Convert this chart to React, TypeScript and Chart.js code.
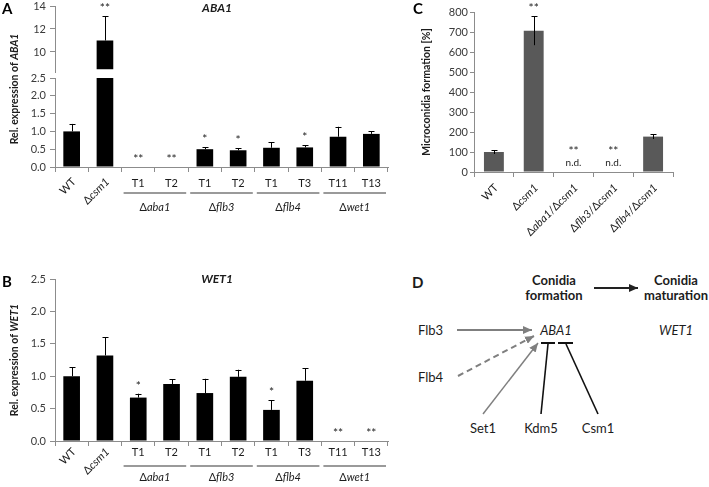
import React, { useEffect, useRef } from 'react';
import { Chart, registerables } from 'chart.js';

Chart.register(...registerables);

const FONT = 'Lato, "Open Sans", "DejaVu Sans", sans-serif';
const INK = '#1c1c1c';
const TICK_INK = '#3a3a3a';
const AXIS = '#8c8c8c';

// ---- Panels A and B: strains ----
const strainLabels = ['WT', 'Δcsm1', 'T1', 'T2', 'T1', 'T2', 'T1', 'T3', 'T11', 'T13'];
const strainGroups = ['Δaba1', 'Δflb3', 'Δflb4', 'Δwet1'];

// Panel A: ABA1 (broken axis)
const aba1Values = [1.0, 11.0, 0, 0, 0.5, 0.47, 0.54, 0.55, 0.85, 0.93];
const aba1Errors = [0.21, 2.1, 0, 0, 0.05, 0.05, 0.15, 0.06, 0.28, 0.07];
const aba1Stars = ['', '**', '**', '**', '*', '*', '', '*', '', ''];
const aba1LowTicks = [0, 0.5, 1.0, 1.5, 2.0, 2.5];
const aba1HighTicks = [10, 12, 14];

// Panel B: WET1
const wet1Values = [1.0, 1.32, 0.67, 0.88, 0.74, 0.99, 0.48, 0.93, 0, 0];
const wet1Errors = [0.14, 0.28, 0.06, 0.07, 0.22, 0.11, 0.15, 0.19, 0, 0];
const wet1Stars = ['', '', '*', '', '', '', '*', '', '**', '**'];
const wet1Ticks = [0, 0.5, 1.0, 1.5, 2.0, 2.5];

// Panel C: microconidia formation
const mutantLabels = ['WT', 'Δcsm1', 'Δaba1/Δcsm1', 'Δflb3/Δcsm1', 'Δflb4/Δcsm1'];
const microValues = [100, 706, 0, 0, 177];
const microErrors = [10, 72, 0, 0, 12];
const microStars = ['', '**', '**', '**', ''];
const microNotes = ['', '', 'n.d.', 'n.d.', ''];
const microTicks = [0, 100, 200, 300, 400, 500, 600, 700, 800];

type Seg = { t: string; i?: boolean; b?: boolean };

function richSegs(label: string, bold = false): Seg[] {
  const parts = label.split(/(Δ|\/)/).filter((p) => p !== '');
  let prevDelta = false;
  return parts.map((p) => {
    const s = { t: p, i: prevDelta, b: bold };
    prevDelta = p === 'Δ';
    return s;
  });
}

function fontOf(s: Seg, size: number) {
  return `${s.i ? 'italic ' : ''}${s.b ? 'bold ' : ''}${size}px ${FONT}`;
}

function drawRich(
  ctx: CanvasRenderingContext2D,
  segs: Seg[],
  x: number,
  y: number,
  size: number,
  align: 'left' | 'center' | 'right',
  rot: number,
  color: string
) {
  ctx.save();
  ctx.translate(x, y);
  ctx.rotate(rot);
  ctx.textBaseline = 'middle';
  ctx.textAlign = 'left';
  ctx.fillStyle = color;
  const widths = segs.map((s) => {
    ctx.font = fontOf(s, size);
    return ctx.measureText(s.t).width;
  });
  const total = widths.reduce((a, b) => a + b, 0);
  let start = align === 'left' ? 0 : align === 'center' ? -total / 2 : -total;
  segs.forEach((s, k) => {
    ctx.font = fontOf(s, size);
    ctx.fillText(s.t, start, 0);
    start += widths[k];
  });
  ctx.restore();
}

function errorBar(ctx: CanvasRenderingContext2D, cx: number, y0: number, y1: number) {
  ctx.save();
  ctx.strokeStyle = '#000';
  ctx.lineWidth = 1;
  ctx.beginPath();
  const px = Math.round(cx) + 0.5;
  ctx.moveTo(px, y0);
  ctx.lineTo(px, y1);
  ctx.moveTo(px - 3, Math.round(y1) + 0.5);
  ctx.lineTo(px + 3, Math.round(y1) + 0.5);
  ctx.stroke();
  ctx.restore();
}

type StripOpts = {
  vals: number[];
  errs: number[];
  stars: string[];
  toPx: (chart: any, v: number) => number;
  labelDy: number;
  rotDy: number;
  lineDy: number;
  nameDy: number;
  yTitle: Seg[];
  yTitleY: number;
  title: Seg[];
  titleX: number;
  titleY: number;
  letter: string;
  letterY: number;
};

function stripDeco(o: StripOpts) {
  return {
    id: 'stripDeco',
    afterDatasetsDraw(chart: any) {
      const ctx = chart.ctx as CanvasRenderingContext2D;
      const x = chart.scales.x;
      o.vals.forEach((v, i) => {
        const cx = x.getPixelForValue(i);
        const e = o.errs[i];
        let topPx = o.toPx(chart, v);
        if (e > 0) {
          const y1 = o.toPx(chart, v + e);
          errorBar(ctx, cx, topPx, y1);
          topPx = y1;
        }
        if (o.stars[i]) drawRich(ctx, [{ t: o.stars[i] }], cx, topPx - 8, 12, 'center', 0, INK);
      });
    },
    afterDraw(chart: any) {
      const ctx = chart.ctx as CanvasRenderingContext2D;
      const x = chart.scales.x;
      const axisY = chart.chartArea.bottom;
      const step = x.getPixelForValue(1) - x.getPixelForValue(0);
      strainLabels.forEach((lab, i) => {
        const cx = x.getPixelForValue(i);
        if (i < 2) drawRich(ctx, richSegs(lab), cx + 2.5, axisY + o.rotDy, 11, 'right', -Math.PI / 4, INK);
        else drawRich(ctx, richSegs(lab), cx, axisY + o.labelDy, 11, 'center', 0, INK);
      });
      strainGroups.forEach((g, gi) => {
        const i0 = 2 + gi * 2;
        const l = x.getPixelForValue(i0) - step / 2;
        const r = x.getPixelForValue(i0 + 1) + step / 2;
        ctx.save();
        ctx.strokeStyle = '#9a9a9a';
        ctx.lineWidth = 2;
        ctx.beginPath();
        ctx.moveTo(l + 2, axisY + o.lineDy);
        ctx.lineTo(r - 2, axisY + o.lineDy);
        ctx.stroke();
        ctx.restore();
        drawRich(ctx, richSegs(g), (l + r) / 2, axisY + o.nameDy, 11, 'center', 0, INK);
      });
      drawRich(ctx, o.yTitle, 15, o.yTitleY, 10.5, 'center', -Math.PI / 2, INK);
      drawRich(ctx, o.title, o.titleX, o.titleY, 12, 'center', 0, INK);
      drawRich(ctx, [{ t: o.letter, b: true }], 2, o.letterY, 15, 'left', 0, '#000');
    },
  };
}

const yTickFont = { family: FONT, size: 11 };
const yGrid = { drawOnChartArea: false, drawTicks: true, tickLength: 5, color: AXIS };
const xGrid = { offset: true, drawOnChartArea: false, drawTicks: true, tickLength: 5, color: AXIS };

function fixedTicks(values: number[]) {
  return (s: any) => {
    s.ticks = values.map((v) => ({ value: v }));
  };
}

function fixWidth(w: number) {
  return (s: any) => {
    s.width = w;
    s.paddingTop = 0;
    s.paddingBottom = 0;
  };
}

function configA(): any {
  const lowMax = 2.5;
  return {
    type: 'bar',
    data: {
      labels: strainLabels,
      datasets: [
        {
          data: aba1Values.map((v) => Math.min(v, lowMax)),
          yAxisID: 'yLow',
          backgroundColor: '#000',
          barPercentage: 0.5,
          categoryPercentage: 1,
          grouped: false,
        },
        {
          data: aba1Values.map((v) => (v > lowMax ? v : null)),
          yAxisID: 'yHigh',
          base: 8.5,
          backgroundColor: '#000',
          barPercentage: 0.5,
          categoryPercentage: 1,
          grouped: false,
        },
      ],
    },
    options: {
      responsive: false,
      animation: false,
      layout: { padding: { top: 6, right: 12, left: 0, bottom: 0 } },
      plugins: { legend: { display: false }, tooltip: { enabled: false } },
      scales: {
        x: {
          grid: xGrid,
          border: { color: AXIS },
          ticks: { display: false },
          afterFit: (s: any) => {
            s.height = 73;
          },
        },
        yLow: {
          type: 'linear',
          position: 'left',
          stack: 'aba',
          stackWeight: 89,
          weight: 1,
          min: 0,
          max: 2.5,
          afterBuildTicks: fixedTicks(aba1LowTicks),
          ticks: {
            color: TICK_INK,
            font: yTickFont,
            padding: 4,
            autoSkip: false,
            callback: (v: any) => Number(v).toFixed(1),
          },
          grid: yGrid,
          border: { color: AXIS },
          afterFit: fixWidth(55),
        },
        yGap: {
          type: 'linear',
          position: 'left',
          stack: 'aba',
          stackWeight: 6,
          weight: 2,
          display: false,
        },
        yHigh: {
          type: 'linear',
          position: 'left',
          stack: 'aba',
          stackWeight: 66,
          weight: 3,
          min: 8.26,
          max: 14,
          afterBuildTicks: fixedTicks(aba1HighTicks),
          ticks: { color: TICK_INK, font: yTickFont, padding: 4, autoSkip: false, callback: (v: any) => String(v) },
          grid: yGrid,
          border: { color: AXIS },
          afterFit: fixWidth(55),
        },
      },
    },
    plugins: [
      stripDeco({
        vals: aba1Values,
        errs: aba1Errors,
        stars: aba1Stars,
        toPx: (chart, v) => (v > lowMax ? chart.scales.yHigh.getPixelForValue(v) : chart.scales.yLow.getPixelForValue(v)),
        labelDy: 16,
        rotDy: 13,
        lineDy: 26,
        nameDy: 40,
        yTitle: [{ t: 'Rel. expression of ', b: true }, { t: 'ABA1', b: true, i: true }],
        yTitleY: 89,
        title: [{ t: 'ABA1', b: true, i: true }],
        titleX: 217,
        titleY: 8,
        letter: 'A',
        letterY: 9,
      }),
    ],
  };
}

function configB(): any {
  return {
    type: 'bar',
    data: {
      labels: strainLabels,
      datasets: [
        {
          data: wet1Values,
          backgroundColor: '#000',
          barPercentage: 0.5,
          categoryPercentage: 1,
        },
      ],
    },
    options: {
      responsive: false,
      animation: false,
      layout: { padding: { top: 39, right: 12, left: 0, bottom: 0 } },
      plugins: { legend: { display: false }, tooltip: { enabled: false } },
      scales: {
        x: {
          grid: xGrid,
          border: { color: AXIS },
          ticks: { display: false },
          afterFit: (s: any) => {
            s.height = 46;
          },
        },
        y: {
          min: 0,
          max: 2.5,
          afterBuildTicks: fixedTicks(wet1Ticks),
          ticks: {
            color: TICK_INK,
            font: yTickFont,
            padding: 4,
            autoSkip: false,
            callback: (v: any) => Number(v).toFixed(1),
          },
          grid: yGrid,
          border: { color: AXIS },
          afterFit: fixWidth(55),
        },
      },
    },
    plugins: [
      stripDeco({
        vals: wet1Values,
        errs: wet1Errors,
        stars: wet1Stars,
        toPx: (chart, v) => chart.scales.y.getPixelForValue(v),
        labelDy: 11,
        rotDy: 9,
        lineDy: 25,
        nameDy: 36,
        yTitle: [{ t: 'Rel. expression of ', b: true }, { t: 'WET1', b: true, i: true }],
        yTitleY: 120,
        title: [{ t: 'WET1', b: true, i: true }],
        titleX: 217,
        titleY: 39,
        letter: 'B',
        letterY: 42,
      }),
    ],
  };
}

function configC(): any {
  return {
    type: 'bar',
    data: {
      labels: mutantLabels,
      datasets: [
        {
          data: microValues,
          backgroundColor: '#595959',
          barPercentage: 0.5,
          categoryPercentage: 1,
        },
      ],
    },
    options: {
      responsive: false,
      animation: false,
      layout: { padding: { top: 12, right: 36, left: 0, bottom: 0 } },
      plugins: { legend: { display: false }, tooltip: { enabled: false } },
      scales: {
        x: {
          grid: xGrid,
          border: { color: AXIS },
          ticks: { display: false },
          afterFit: (s: any) => {
            s.height = 68;
          },
        },
        y: {
          min: 0,
          max: 800,
          afterBuildTicks: fixedTicks(microTicks),
          ticks: { color: TICK_INK, font: yTickFont, padding: 2, autoSkip: false, callback: (v: any) => String(v) },
          grid: { ...yGrid, tickLength: 4 },
          border: { color: AXIS },
          afterFit: fixWidth(114),
        },
      },
    },
    plugins: [
      {
        id: 'microDeco',
        afterDatasetsDraw(chart: any) {
          const ctx = chart.ctx as CanvasRenderingContext2D;
          const x = chart.scales.x;
          const y = chart.scales.y;
          microValues.forEach((v, i) => {
            const cx = x.getPixelForValue(i);
            const e = microErrors[i];
            let topPx = y.getPixelForValue(v);
            if (e > 0) {
              errorBar(ctx, cx, y.getPixelForValue(v - e), y.getPixelForValue(v + e));
              topPx = y.getPixelForValue(v + e);
            }
            if (microNotes[i]) {
              drawRich(ctx, [{ t: microNotes[i] }], cx, topPx - 9, 10, 'center', 0, INK);
              drawRich(ctx, [{ t: microStars[i] }], cx, topPx - 21, 12, 'center', 0, INK);
            } else if (microStars[i]) {
              drawRich(ctx, [{ t: microStars[i] }], cx, topPx - 8, 12, 'center', 0, INK);
            }
          });
        },
        afterDraw(chart: any) {
          const ctx = chart.ctx as CanvasRenderingContext2D;
          const x = chart.scales.x;
          const axisY = chart.chartArea.bottom;
          mutantLabels.forEach((lab, i) => {
            const cx = x.getPixelForValue(i);
            drawRich(ctx, richSegs(lab), cx + 2.5, axisY + 14, 11, 'right', -Math.PI / 4, INK);
          });
          drawRich(
            ctx,
            [{ t: 'Microconidia formation [%]', b: true }],
            67,
            (chart.chartArea.top + chart.chartArea.bottom) / 2,
            10.5,
            'center',
            -Math.PI / 2,
            INK
          );
          drawRich(ctx, [{ t: 'C', b: true }], 53, 9, 15, 'left', 0, '#000');
        },
      },
    ],
  };
}

function ChartCanvas(props: { left: number; top: number; width: number; height: number; make: () => any }) {
  const ref = useRef<HTMLCanvasElement>(null);
  useEffect(() => {
    const chart = new Chart(ref.current as HTMLCanvasElement, props.make());
    return () => chart.destroy();
  }, []);
  return (
    <canvas
      ref={ref}
      width={props.width}
      height={props.height}
      style={{ position: 'absolute', left: props.left, top: props.top, width: props.width, height: props.height }}
    />
  );
}

function PanelD() {
  const txt = { fontFamily: FONT, fontSize: 13, fill: INK } as any;
  const gray = '#7f7f7f';
  return (
    <svg
      width={709}
      height={487}
      style={{ position: 'absolute', left: 0, top: 0 }}
      xmlns="http://www.w3.org/2000/svg"
    >
      <defs>
        <marker id="headGray" markerWidth="9" markerHeight="8" refX="9" refY="4" orient="auto" markerUnits="userSpaceOnUse">
          <path d="M0,0 L9,4 L0,8 z" fill={gray} />
        </marker>
        <marker id="headBlack" markerWidth="9" markerHeight="8" refX="9" refY="4" orient="auto" markerUnits="userSpaceOnUse">
          <path d="M0,0 L9,4 L0,8 z" fill="#222" />
        </marker>
      </defs>
      <text x={412} y={282} style={{ ...txt, fontSize: 15, fontWeight: 700 }} dominantBaseline="central">D</text>
      <text x={554} y={280} textAnchor="middle" dominantBaseline="central" style={{ ...txt, fontWeight: 700 }}>Conidia</text>
      <text x={554} y={295} textAnchor="middle" dominantBaseline="central" style={{ ...txt, fontWeight: 700 }}>formation</text>
      <text x={676} y={280} textAnchor="middle" dominantBaseline="central" style={{ ...txt, fontWeight: 700 }}>Conidia</text>
      <text x={676} y={295} textAnchor="middle" dominantBaseline="central" style={{ ...txt, fontWeight: 700 }}>maturation</text>
      <line x1={594} y1={288} x2={638} y2={288} stroke="#222" strokeWidth={2} markerEnd="url(#headBlack)" />

      <text x={418} y={330} dominantBaseline="central" style={txt}>Flb3</text>
      <text x={418} y={377} dominantBaseline="central" style={txt}>Flb4</text>
      <text x={556} y={330} textAnchor="middle" dominantBaseline="central" style={{ ...txt, fontStyle: 'italic' }}>ABA1</text>
      <text x={676} y={330} textAnchor="middle" dominantBaseline="central" style={{ ...txt, fontStyle: 'italic' }}>WET1</text>

      <line x1={457} y1={330} x2={532} y2={330} stroke={gray} strokeWidth={2} markerEnd="url(#headGray)" />
      <line x1={458} y1={376} x2={534} y2={336} stroke={gray} strokeWidth={2} strokeDasharray="6 4" markerEnd="url(#headGray)" />
      <line x1={483} y1={414} x2={538} y2={343} stroke={gray} strokeWidth={1.5} markerEnd="url(#headGray)" />

      <line x1={541} y1={414} x2={548} y2={344} stroke="#111" strokeWidth={1.6} />
      <line x1={541} y1={343} x2={555} y2={343} stroke="#111" strokeWidth={2} />
      <line x1={598} y1={414} x2={566} y2={344} stroke="#111" strokeWidth={1.6} />
      <line x1={558} y1={343} x2={573} y2={343} stroke="#111" strokeWidth={2} />

      <text x={483} y={428} textAnchor="middle" dominantBaseline="central" style={txt}>Set1</text>
      <text x={541} y={428} textAnchor="middle" dominantBaseline="central" style={txt}>Kdm5</text>
      <text x={598} y={428} textAnchor="middle" dominantBaseline="central" style={txt}>Csm1</text>
    </svg>
  );
}

export default function App() {
  return (
    <div style={{ position: 'absolute', left: 0, top: 0, width: 709, height: 487, background: '#fff', overflow: 'hidden' }}>
      <PanelD />
      <ChartCanvas left={0} top={0} width={400} height={240} make={configA} />
      <ChartCanvas left={0} top={240} width={400} height={247} make={configB} />
      <ChartCanvas left={360} top={0} width={349} height={240} make={configC} />
    </div>
  );
}
